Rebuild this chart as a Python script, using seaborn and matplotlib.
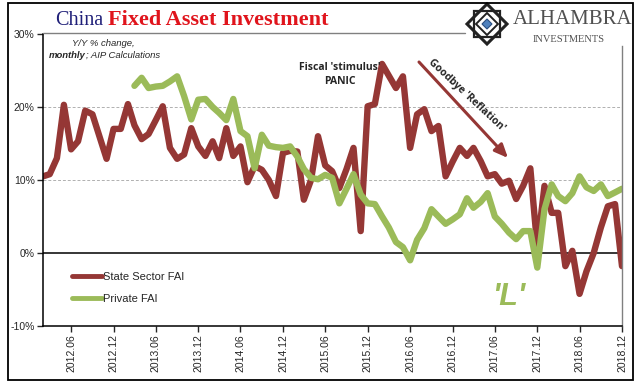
#!/usr/bin/env python3

import pandas as pd
import numpy as np
import matplotlib.pyplot as plt
import matplotlib.dates as mdates
from matplotlib.patches import Rectangle, Polygon
from matplotlib.lines import Line2D
import seaborn as sns

# monthly, 2012.02 .. 2018.12
months = pd.date_range('2012-02-01', '2018-12-01', freq='MS')

state_fai = [
    10.5, 10.8, 13.0, 20.3, 14.2, 15.3, 19.5, 19.0, 16.0, 12.9, 17.0,   # 2012
    17.0, 20.4, 17.5, 15.6, 16.3, 18.2, 20.1, 14.4, 12.9, 13.5, 17.1, 14.6,  # 2013
    13.3, 15.3, 13.0, 17.1, 13.3, 14.6, 9.7, 11.9, 11.4, 10.0, 7.8, 13.7,  # 2014
    14.0, 13.9, 7.3, 10.0, 16.0, 12.0, 11.2, 8.9, 11.5, 14.4, 3.0, 20.1,  # 2015
    20.4, 25.9, 24.3, 22.6, 24.2, 14.4, 19.0, 19.7, 16.7, 17.4, 10.5, 12.5,  # 2016
    14.4, 13.3, 14.4, 12.6, 10.5, 10.8, 9.5, 9.9, 7.4, 9.2, 11.6, 0.8,  # 2017
    9.2, 5.5, 5.5, -1.8, 0.3, -5.6, -2.5, 0.0, 3.5, 6.4, 6.7, -1.8,  # 2018
]

# private series starts 2013.03
private_start = '2013-03-01'
private_fai = [
    22.9, 24.0, 22.6, 22.8, 22.9, 23.5, 24.2, 21.5, 18.3, 21.0,  # 2013
    21.1, 20.0, 19.2, 18.2, 21.1, 16.7, 16.0, 11.6, 16.2, 14.7, 14.5, 14.4,  # 2014
    14.6, 13.2, 11.5, 10.3, 10.1, 10.7, 10.3, 6.8, 8.8, 10.8, 8.0, 6.8,  # 2015
    6.7, 5.0, 3.5, 1.5, 0.8, -1.0, 1.8, 3.4, 6.0, 5.0, 4.0, 4.6,  # 2016
    5.3, 7.5, 6.2, 7.0, 8.2, 5.0, 4.0, 2.8, 1.9, 3.0, 3.0, -2.0,  # 2017
    6.0, 9.4, 7.8, 7.1, 8.2, 10.5, 9.0, 8.5, 9.4, 7.8, 8.3, 8.8,  # 2018
]

series_names = ['State Sector FAI', 'Private FAI']
series_colors = ['#953735', '#9bbb59']

y_ticks = [-10, 0, 10, 20, 30]
y_tick_labels = ['-10%', '0%', '10%', '20%', '30%']

W, H = 641, 387


def fx(x):
    return x / W


def fy(y):
    return 1 - y / H


state_df = pd.DataFrame({'date': months, 'value': state_fai,
                         'series': series_names[0]})
private_df = pd.DataFrame({'date': pd.date_range(private_start, '2018-12-01', freq='MS'),
                           'value': private_fai, 'series': series_names[1]})
plot_df = pd.concat([state_df, private_df], ignore_index=True)

sns.set_style('white')
plt.rcParams['font.family'] = ['Liberation Sans Narrow', 'Liberation Sans', 'DejaVu Sans']

fig = plt.figure(figsize=(W / 100, H / 100), dpi=100)
ax = fig.add_axes([fx(43), fy(326), fx(622) - fx(43), fy(34) - fy(326)])

sns.lineplot(
    data=plot_df, x='date', y='value', hue='series',
    hue_order=series_names, palette=dict(zip(series_names, series_colors)),
    linewidth=4.6, ax=ax, legend=False
)

ax.set_xlim(months[0], months[-1])
ax.set_ylim(-10, 30)
ax.set_yticks(y_ticks)
ax.set_yticklabels(y_tick_labels)
ax.xaxis.set_major_locator(mdates.MonthLocator(bymonth=[6, 12]))
ax.xaxis.set_major_formatter(mdates.DateFormatter('%Y.%m'))
ax.tick_params(axis='x', rotation=90, labelsize=7.5, length=4, width=1,
               direction='out', bottom=True, pad=2)
ax.tick_params(axis='y', labelsize=7.5, length=4, width=1,
               direction='out', left=True, pad=2)
ax.set_xlabel('')
ax.set_ylabel('')

for v in [10, 20]:
    ax.axhline(v, color='#b0b0b0', lw=0.7, ls=(0, (3, 2)), zorder=0)
ax.axhline(0, color='black', lw=1.1, zorder=1)

for side in ['left', 'bottom']:
    ax.spines[side].set_color('black')
    ax.spines[side].set_linewidth(1.1)
ax.spines['top'].set_visible(False)
ax.spines['right'].set_color('#808080')
ax.spines['right'].set_linewidth(1)
ax.spines['right'].set_bounds(-10, 28.4)
# title underline along the top of the plot
fig.add_artist(Line2D([fx(43), fx(465)], [fy(33), fy(33)], color='#808080', lw=1))

# legend
handles = [Line2D([], [], color=c, lw=3.5) for c in series_colors]
ax.legend(handles, series_names, loc='upper left',
          bbox_to_anchor=(fx(72), fy(272)), bbox_transform=fig.transFigure,
          frameon=False, fontsize=8, handlelength=2.7, handletextpad=0.1,
          labelspacing=1.1, borderaxespad=0, borderpad=0)

# title
t1 = fig.text(fx(55), fy(25), 'China', fontsize=14.5, color='#1f1f78',
              family=['Liberation Serif', 'DejaVu Serif'], va='baseline')
fig.canvas.draw()
bb = t1.get_window_extent()
fig.text(bb.x1 / W + fx(5), fy(25), 'Fixed Asset Investment', fontsize=16,
         color='#e0141c', fontweight='bold',
         family=['Liberation Serif', 'DejaVu Serif'], va='baseline')

# notes
fig.text(fx(72), fy(43), 'Y/Y % change,', fontsize=6.8, style='italic',
         family=['Liberation Sans', 'DejaVu Sans'], va='center')
t2 = fig.text(fx(49), fy(55), 'monthly', fontsize=6.8, style='italic',
              fontweight='bold', family=['Liberation Sans', 'DejaVu Sans'], va='center')
fig.canvas.draw()
bb = t2.get_window_extent()
fig.text(bb.x1 / W, fy(55), '; AIP Calculations', fontsize=6.8, style='italic',
         family=['Liberation Sans', 'DejaVu Sans'], va='center')

fig.text(fx(340), fy(67), "Fiscal 'stimulus'", fontsize=7.5, fontweight='bold',
         family=['Open Sans', 'DejaVu Sans'], ha='center', va='center')
fig.text(fx(340), fy(82), 'PANIC', fontsize=7.5, fontweight='bold',
         family=['Open Sans', 'DejaVu Sans'], ha='center', va='center')

fig.text(fx(467), fy(95), "Goodbye 'Reflation'", fontsize=7.5, fontweight='bold',
         family=['Open Sans', 'DejaVu Sans'], ha='center', va='center',
         rotation=-43, rotation_mode='anchor')
ax.annotate('', xy=(fx(508), fy(158)), xycoords='figure fraction',
            xytext=(fx(419), fy(62)), textcoords='figure fraction',
            arrowprops=dict(arrowstyle='-|>,head_length=0.8,head_width=0.35',
                            color='#953735', lw=2.2, shrinkA=0, shrinkB=0))

fig.text(fx(509), fy(297), "'L'", fontsize=22, fontweight='bold', style='italic',
         color='#9bbb59', family=['Liberation Sans', 'DejaVu Sans'],
         ha='center', va='center')

# logo
cx, cy, r = 487, 24, 20
fig.add_artist(Polygon([[fx(cx), fy(cy - r)], [fx(cx + r), fy(cy)],
                        [fx(cx), fy(cy + r)], [fx(cx - r), fy(cy)]],
                       closed=True, fc='white', ec='#222222', lw=2.2))
r2 = 13
fig.add_artist(Polygon([[fx(cx - r2), fy(cy - r2)], [fx(cx + r2), fy(cy - r2)],
                        [fx(cx + r2), fy(cy + r2)], [fx(cx - r2), fy(cy + r2)]],
                       closed=True, fc='none', ec='#222222', lw=1.6))
r3 = 11
fig.add_artist(Polygon([[fx(cx), fy(cy - r3)], [fx(cx + r3), fy(cy)],
                        [fx(cx), fy(cy + r3)], [fx(cx - r3), fy(cy)]],
                       closed=True, fc='none', ec='#222222', lw=1.4))
r4 = 5
fig.add_artist(Polygon([[fx(cx), fy(cy - r4)], [fx(cx + r4), fy(cy)],
                        [fx(cx), fy(cy + r4)], [fx(cx - r4), fy(cy)]],
                       closed=True, fc='#4f81bd', ec='#2a4f80', lw=0.8))
fig.text(fx(513), fy(20), 'ALHAMBRA', fontsize=15, color='#505050',
         family=['Liberation Serif', 'DejaVu Serif'], ha='left', va='center')
fig.text(fx(569), fy(40), 'INVESTMENTS', fontsize=7.5, color='#505050',
         family=['Liberation Serif', 'DejaVu Serif'], ha='center', va='center')

# outer frame
fig.add_artist(Rectangle((fx(8), fy(380)), fx(633) - fx(8), fy(3) - fy(380),
                         fill=False, ec='black', lw=1.3))

fig.savefig('out.png', dpi=100)
